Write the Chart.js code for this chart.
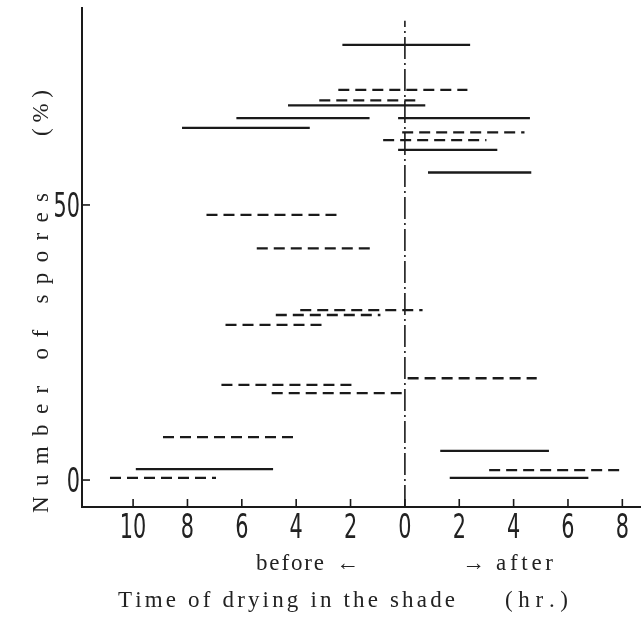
<!DOCTYPE html>
<html>
<head>
<meta charset="utf-8">
<script src="https://cdn.jsdelivr.net/npm/chart.js@4/dist/chart.umd.min.js"></script>
<style>
html, body { margin: 0; padding: 0; background: #fff; }
</style>
</head>
<body>
<canvas id="grafico" width="641" height="617"></canvas>
<script>
// horas: negativo = antes da secagem, positivo = depois
const solidoInicio = [-2.3, -4.3, -6.2, -0.25, -8.2, -0.25, 0.85, 1.3, -9.9, 1.65];
const solidoFim    = [ 2.4,  0.75, -1.3, 4.6, -3.5, 3.4, 4.65, 5.3, -4.85, 6.75];
const solidoPct    = [79.1, 68.1, 65.8, 65.8, 64.0, 60.0, 55.9, 5.3, 2.0, 0.4];

const tracoInicio = [-2.45, -3.15, -0.1, -0.8, -7.3, -5.45, -3.85, -4.75, -6.6, 0.1, -6.75, -4.9, -8.9, 3.1, -10.85];
const tracoFim    = [ 2.3,  0.55, 4.4, 3.0, -2.45, -1.2, 0.65, -0.9, -2.85, 4.85, -1.9, 0, -3.9, 8.05, -6.95];
const tracoPct    = [70.9, 69.0, 63.2, 61.8, 48.2, 42.1, 30.9, 30.0, 28.2, 18.5, 17.3, 15.8, 7.8, 1.8, 0.4];

const horasTicks = [-10, -8, -6, -4, -2, 0, 2, 4, 6, 8];
const pctTicks = [0, 50];

const corLinha = '#1a1a1a';
const fonteNum = "'DejaVu Sans Condensed', 'DejaVu Sans', sans-serif";
const fonteTit = "'Liberation Serif', 'DejaVu Serif', serif";

function segmentos(ini, fim, pct, tracejado) {
    return ini.map((x0, i) => ({
        data: [{ x: x0, y: pct[i] }, { x: fim[i], y: pct[i] }],
        borderColor: corLinha,
        borderWidth: 2.3,
        borderDash: tracejado ? [11, 6] : [],
        pointRadius: 0,
        fill: false
    }));
}

function textoEspacado(ctx, texto, x0, x1, y) {
    const chars = [...texto];
    const larg = chars.map(c => ctx.measureText(c).width);
    const total = larg.reduce((a, b) => a + b, 0);
    const extra = chars.length > 1 ? (x1 - x0 - total) / (chars.length - 1) : 0;
    let x = x0;
    chars.forEach((c, i) => {
        ctx.fillText(c, x, y);
        x += larg[i] + extra;
    });
}

// numeros estreitos como no original
function rotuloEstreito(ctx, texto, x, y, alinh) {
    ctx.save();
    ctx.translate(x, y);
    ctx.scale(0.68, 1);
    ctx.textAlign = alinh;
    ctx.fillText(texto, 0, 0);
    ctx.restore();
}

// marcas das escalas para dentro + rotulos + textos dos eixos
const pluginEixos = {
    id: 'eixos',
    afterDraw(chart) {
        const { ctx, chartArea, scales } = chart;
        ctx.save();
        ctx.strokeStyle = corLinha;
        ctx.fillStyle = '#222';
        ctx.lineWidth = 1.6;
        ctx.font = '34px ' + fonteNum;
        ctx.textBaseline = 'alphabetic';

        scales.x.ticks.forEach((t, i) => {
            const px = scales.x.getPixelForTick(i);
            ctx.beginPath();
            ctx.moveTo(px, chartArea.bottom);
            ctx.lineTo(px, chartArea.bottom - 8);
            ctx.stroke();
            rotuloEstreito(ctx, String(Math.abs(t.value)), px, chartArea.bottom + 31, 'center');
        });
        scales.y.ticks.forEach((t, i) => {
            const py = scales.y.getPixelForTick(i);
            ctx.beginPath();
            ctx.moveTo(chartArea.left, py);
            ctx.lineTo(chartArea.left + 8, py);
            ctx.stroke();
            rotuloEstreito(ctx, String(t.value), chartArea.left - 2, py + 12, 'right');
        });

        ctx.font = '23px ' + fonteTit;
        textoEspacado(ctx, 'before', 256, 324, 570);
        ctx.fillText('\u2190', 336, 570);
        ctx.fillText('\u2192', 462, 570);
        textoEspacado(ctx, 'after', 496, 553, 570);
        textoEspacado(ctx, 'Time of drying in the shade', 118, 455, 607);
        textoEspacado(ctx, '(hr.)', 505, 568, 607);

        ctx.translate(48, 513);
        ctx.rotate(-Math.PI / 2);
        textoEspacado(ctx, 'Number of spores', 0, 320, 0);
        textoEspacado(ctx, '(%)', 377, 423, 0);
        ctx.restore();
    }
};

const linhaZero = {
    data: [{ x: 0, y: -4.9 }, { x: 0, y: 83.5 }],
    borderColor: corLinha,
    borderWidth: 1.6,
    borderDash: [22, 4, 2, 4],
    pointRadius: 0,
    fill: false
};

new Chart(document.getElementById('grafico'), {
    type: 'line',
    data: {
        datasets: [
            linhaZero,
            ...segmentos(solidoInicio, solidoFim, solidoPct, false),
            ...segmentos(tracoInicio, tracoFim, tracoPct, true)
        ]
    },
    options: {
        responsive: false,
        animation: false,
        devicePixelRatio: 1,
        layout: { padding: { top: 8, right: 1, left: 0, bottom: 0 } },
        plugins: {
            legend: { display: false },
            tooltip: { enabled: false }
        },
        scales: {
            x: {
                type: 'linear',
                min: -11.88,
                max: 8.65,
                afterBuildTicks: s => { s.ticks = horasTicks.map(v => ({ value: v })); },
                afterFit: s => {
                    s.height = 110;
                    s.paddingLeft = 0;
                    s.paddingRight = 0;
                },
                grid: { drawOnChartArea: false, drawTicks: false },
                border: { display: true, color: corLinha, width: 2 },
                ticks: { display: false }
            },
            y: {
                min: -4.9,
                max: 85.8,
                afterBuildTicks: s => { s.ticks = pctTicks.map(v => ({ value: v })); },
                afterFit: s => {
                    s.width = 82;
                    s.paddingTop = 0;
                    s.paddingBottom = 0;
                },
                grid: { drawOnChartArea: false, drawTicks: false },
                border: { display: true, color: corLinha, width: 2 },
                ticks: { display: false }
            }
        }
    },
    plugins: [pluginEixos]
});
</script>
</body>
</html>
